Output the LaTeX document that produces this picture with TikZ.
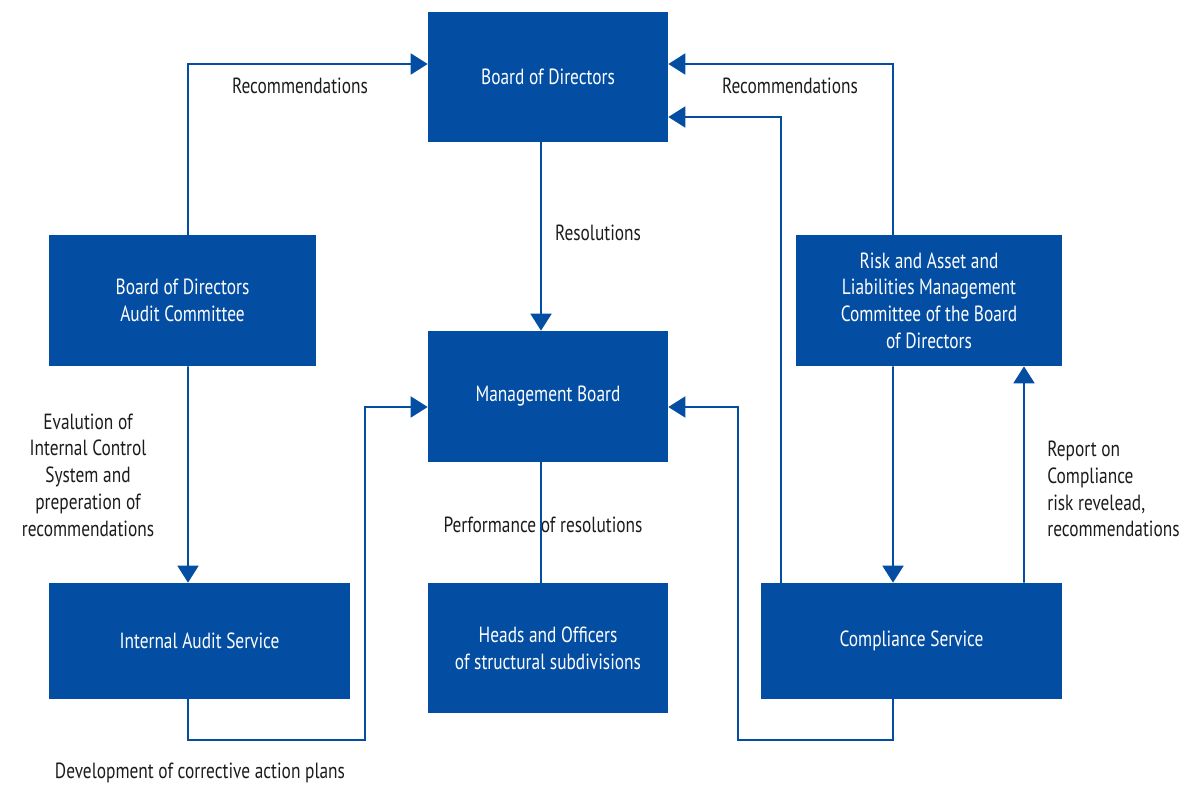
\documentclass[tikz,border=0pt]{standalone}
\usepackage{fontspec}
\setmainfont{PT Sans}[FakeStretch=0.79]
\usepackage{xcolor}
\usepackage{tikz}
\usetikzlibrary{arrows.meta}
\definecolor{boxblue}{RGB}{3,78,162}
\definecolor{txtgray}{RGB}{28,28,28}

\begin{document}
\begin{tikzpicture}[x=0.02cm,y=-0.02cm,
  font=\fontsize{12.5}{15.2}\selectfont,
  box/.style={fill=boxblue,text=white,align=center,inner sep=0pt},
  lbl/.style={text=txtgray,inner sep=0pt},
  link/.style={draw=boxblue,line width=1.1pt},
  arr/.style={link,-{Triangle[length=0.34cm,width=0.42cm]}}]
\useasboundingbox (0,0) rectangle (1189,785);
\node[box,minimum width=4.8cm,minimum height=2.6cm] (bod) at (548,77) {Board of Directors};
\node[box,minimum width=5.34cm,minimum height=2.62cm] (audit) at (182.5,300.5) {Board of Directors\\Audit Committee};
\node[box,minimum width=4.8cm,minimum height=2.62cm] (mb) at (548,396.5) {Management Board};
\node[box,minimum width=5.32cm,minimum height=2.62cm] (risk) at (929,300.5) {Risk and Asset and\\Liabilities Management\\Committee of the Board\\of Directors};
\node[box,minimum width=6.02cm,minimum height=2.32cm] (ias) at (199.5,641) {Internal Audit Service};
\node[box,minimum width=4.8cm,minimum height=2.6cm] (heads) at (548,648) {Heads and Officers\\of structural subdivisions};
\node[box,minimum width=6.02cm,minimum height=2.32cm] (comp) at (911.5,641) {Compliance Service};

\node[lbl] (recl) at (300,86) {Recommendations};
\node[lbl] (recr) at (790,86) {Recommendations};
\node[lbl] (res) at (598,233) {Resolutions};
\node[lbl,align=center] (eval) at (88,475) {Evalution of\\Internal Control\\System and\\preperation of\\recommendations};
\node[lbl] (perf) at (543,525) {Performance of resolutions};
\node[lbl] (dev) at (200,773) {Development of corrective action plans};
\node[lbl,align=left,anchor=west] (rep) at (1047,489) {Report on\\Compliance\\risk revelead,\\recommendations};

\draw[arr] ([xshift=0.11cm]audit.north) |- ([yshift=0.26cm]bod.west);
\draw[arr] ([xshift=-0.72cm]risk.north) |- ([yshift=0.26cm]bod.east);
\draw[arr] ([xshift=-2.61cm]comp.north) |- ([yshift=-0.8cm]bod.east);
\draw[arr] ([xshift=-0.14cm]bod.south) -- ([xshift=-0.14cm]mb.north);
\draw[arr] ([xshift=0.11cm]audit.south) -- ([xshift=-0.23cm]ias.north);
\draw[arr] ([xshift=-0.23cm]ias.south) |- ++(177,41) |- ([yshift=-0.21cm]mb.west);
\draw[link] ([xshift=-0.14cm]mb.south) -- ([xshift=-0.14cm]heads.north);
\draw[arr] ([xshift=-0.37cm]comp.south) |- ++(-155,41) |- ([yshift=-0.21cm]mb.east);
\draw[arr] ([xshift=-0.72cm]risk.south) -- ([xshift=-0.37cm]comp.north);
\draw[arr] ([xshift=2.25cm]comp.north) -- ([xshift=1.9cm]risk.south);
\end{tikzpicture}
\end{document}
